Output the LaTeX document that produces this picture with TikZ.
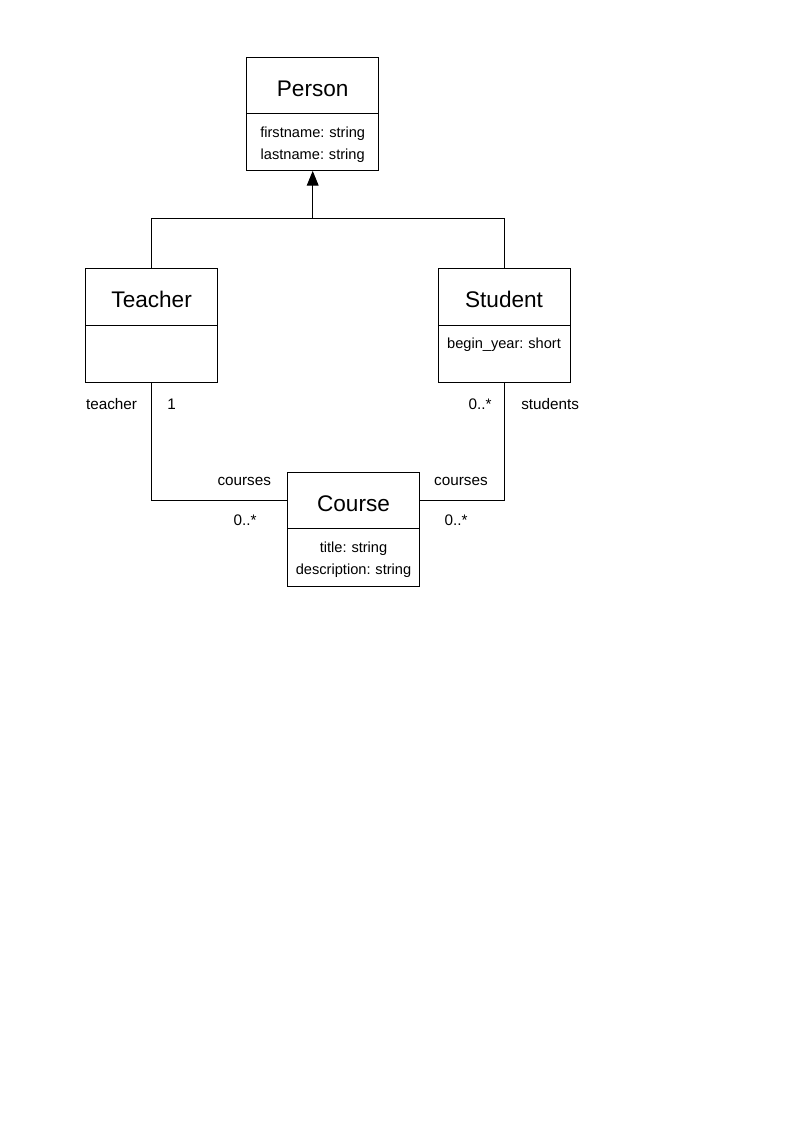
\documentclass[tikz,border=0pt]{standalone}
\usepackage{fontspec}
\setmainfont{Liberation Sans}
\usepackage{tikz}
\usetikzlibrary{positioning, arrows.meta}
\frenchspacing

\begin{document}
\begin{tikzpicture}[line width=0.75pt,
    classname/.style={draw, minimum width=3.49cm, minimum height=1.5cm,
      inner sep=0pt, outer sep=0pt, text height=16pt, text depth=0pt,
      font=\fontsize{17}{20}\selectfont},
    classattr/.style={draw, text width=3.49cm, align=center, inner sep=0pt,
      outer sep=0pt, text height=0.62cm, text depth=0.89cm,
      font=\fontsize{11}{16.9}\selectfont},
    role/.style={font=\fontsize{11.5}{14}\selectfont}]
    \useasboundingbox (0, 0) rectangle (21, 29.7);

    % classes
    \node[classname] (person) at (8.27, 27.44) {Person};
    \node[classattr, below=0pt of person] (person-a)
      {firstname: string\\lastname: string};

    \node[classname] (teacher) at (4.01, 21.85) {Teacher};
    \node[classattr, below=0pt of teacher] (teacher-a) {};

    \node[classname] (student) at (13.33, 21.85) {Student};
    \node[classattr, below=0pt of student] (student-a) {begin\_year: short};

    \node[classname] (course) at (9.35, 16.46) {Course};
    \node[classattr, below=0pt of course] (course-a)
      {title: string\\description: string};

    % inheritance
    \coordinate (gen) at (8.27, 23.91);
    \draw (teacher.north) |- (gen) -| (student.north);
    \draw[-{Triangle[length=11pt, width=8.8pt]}] (gen) -- (person-a.south);

    % associations
    \draw (teacher-a.south) |- (course.west);
    \draw (student-a.south) |- (course.east);

    % roles and multiplicities
    \node[role] (teacher-r) at (2.95, 19.01) {teacher};
    \node[role] (teacher-m) at (4.54, 19.01) {1};
    \node[role] (student-m) at (12.70, 19.01) {0..*};
    \node[role] (student-r) at (14.55, 19.01) {students};
    \node[role] (course-lr) at (6.46, 16.97) {courses};
    \node[role] (course-lm) at (6.48, 15.94) {0..*};
    \node[role] (course-rr) at (12.19, 16.97) {courses};
    \node[role] (course-rm) at (12.06, 15.94) {0..*};
  \end{tikzpicture}
\end{document}
